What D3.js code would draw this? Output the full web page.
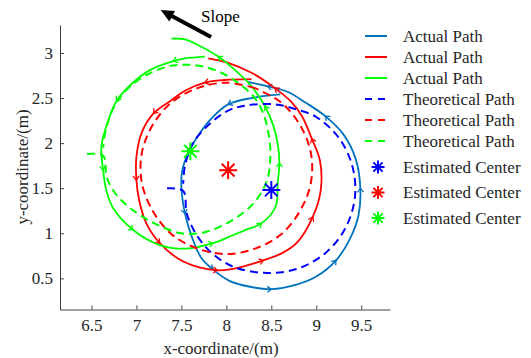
<!DOCTYPE html>
<html>
<head>
<meta charset="utf-8">
<script src="https://cdn.jsdelivr.net/npm/d3@7/dist/d3.min.js"></script>
<style>
  html, body { margin: 0; padding: 0; background: #fff; }
  svg, svg text { font-family: 'Liberation Serif', 'Times New Roman', serif; }
  svg { display: block; }
</style>
</head>
<body>
<svg id="chart" width="531" height="358"></svg>
<script>
// paths (metres), all driven counter-clockwise
const actualBlue = [
  [8.60, 2.54], [8.28, 2.50], [8.02, 2.43], [7.84, 2.28], [7.67, 2.06], [7.58, 1.90],
  [7.51, 1.70], [7.50, 1.52], [7.54, 1.22], [7.62, 0.95], [7.72, 0.73], [7.85, 0.60],
  [8.04, 0.47], [8.25, 0.41], [8.50, 0.38], [8.78, 0.43], [9.00, 0.52], [9.22, 0.70],
  [9.38, 0.95], [9.47, 1.20], [9.49, 1.50], [9.44, 1.82], [9.30, 2.10], [9.10, 2.30],
  [8.88, 2.45], [8.68, 2.57], [8.46, 2.63], [8.24, 2.68]
]
const actualRed = [
  [8.28, 2.71], [7.98, 2.70], [7.76, 2.67], [7.54, 2.58], [7.38, 2.47], [7.19, 2.33],
  [7.06, 2.12], [7.00, 1.85], [7.00, 1.59], [7.03, 1.37], [7.11, 1.11], [7.26, 0.89],
  [7.48, 0.71], [7.71, 0.62], [7.90, 0.59], [8.04, 0.60], [8.25, 0.65], [8.41, 0.70],
  [8.62, 0.78], [8.78, 0.89], [8.96, 1.18], [9.05, 1.48], [9.04, 1.81], [8.95, 2.05],
  [8.84, 2.30], [8.72, 2.46], [8.54, 2.61], [8.28, 2.78], [8.02, 2.89], [7.80, 2.94]
]
const actualGreen = [
  [7.76, 2.96], [7.54, 2.94], [7.41, 2.91], [7.15, 2.81], [6.96, 2.67], [6.78, 2.47],
  [6.67, 2.20], [6.61, 1.96], [6.63, 1.70], [6.66, 1.50], [6.74, 1.28], [6.96, 1.04],
  [7.26, 0.87], [7.56, 0.83], [7.85, 0.89], [8.05, 0.97], [8.22, 1.04], [8.39, 1.11],
  [8.55, 1.30], [8.57, 1.55], [8.59, 1.78], [8.57, 2.00], [8.52, 2.20], [8.43, 2.41],
  [8.28, 2.63], [8.13, 2.78], [7.91, 2.96], [7.70, 3.08], [7.54, 3.15], [7.39, 3.16]
]
const theoryBlue = [
  [7.34, 1.50], [7.52, 1.47], [7.56, 1.22], [7.67, 0.98], [7.85, 0.77], [8.10, 0.62],
  [8.46, 0.56], [8.80, 0.61], [9.10, 0.78], [9.32, 1.05], [9.43, 1.40], [9.40, 1.75],
  [9.25, 2.06], [9.00, 2.29], [8.76, 2.38], [8.54, 2.43], [8.24, 2.42], [8.02, 2.36],
  [7.80, 2.20], [7.63, 2.00], [7.54, 1.75], [7.52, 1.55]
]
const theoryRed = [
  [8.32, 2.61], [8.00, 2.67], [7.68, 2.61], [7.39, 2.45], [7.18, 2.20], [7.06, 1.89],
  [7.06, 1.56], [7.18, 1.25], [7.39, 0.99], [7.68, 0.83], [8.00, 0.77], [8.32, 0.83],
  [8.61, 0.99], [8.82, 1.25], [8.94, 1.56], [8.94, 1.89], [8.82, 2.20], [8.61, 2.45],
  [8.32, 2.61]
]
const theoryGreen = [
  [6.45, 1.88], [6.63, 1.86], [6.67, 1.62], [6.76, 1.45], [6.93, 1.28], [7.20, 1.11],
  [7.50, 1.00], [7.75, 1.01], [8.04, 1.13], [8.30, 1.33], [8.45, 1.58], [8.49, 1.85],
  [8.47, 2.10], [8.41, 2.33], [8.30, 2.52], [8.10, 2.69], [7.90, 2.80], [7.68, 2.86],
  [7.40, 2.86], [7.12, 2.76], [6.90, 2.60], [6.75, 2.40], [6.66, 2.15], [6.63, 1.95]
]
// estimated centres (blue, red, green)
const centerX = [8.50, 8.02, 7.60]
const centerY = [1.48, 1.70, 1.91]

const xTicks = [6.5, 7, 7.5, 8, 8.5, 9, 9.5]
const yTicks = [0.5, 1, 1.5, 2, 2.5, 3]
const legendLabels = [
  'Actual Path', 'Actual Path', 'Actual Path',
  'Theoretical Path', 'Theoretical Path', 'Theoretical Path',
  'Estimated Center', 'Estimated Center', 'Estimated Center'
]
// slope annotation arrow, tail then head, in axis units
const slopeArrow = [[7.83, 3.176], [7.27, 3.476]]

const svg = d3.select('#chart')
const axisColor = '#404040'
const textColor = '#262626'
const serif = "'Liberation Serif', 'Times New Roman', serif"

const x = d3.scaleLinear().domain([6.15, 9.82]).range([60, 390])
const y = d3.scaleLinear().domain([0.155, 3.31]).range([309.5, 25])

const line = d3
  .line()
  .x(d => x(d[0]))
  .y(d => y(d[1]))
  .curve(d3.curveCatmullRom.alpha(0.5))

/* AXES */
svg
  .append('g')
  .attr('transform', 'translate(0,309.5)')
  .call(
    d3
      .axisBottom(x)
      .tickValues(xTicks)
      .tickSizeInner(-4)
      .tickSizeOuter(0)
      .tickPadding(9.5)
      .tickFormat(d3.format('~g'))
  )
  .call(g => g.selectAll('line, path').attr('stroke', axisColor))
  .selectAll('text')
  .attr('fill', textColor)
  .style('font-family', serif)
  .style('font-size', '17px')

svg
  .append('g')
  .attr('transform', 'translate(60,0)')
  .call(
    d3
      .axisLeft(y)
      .tickValues(yTicks)
      .tickSizeInner(-4)
      .tickSizeOuter(0)
      .tickPadding(7)
      .tickFormat(d3.format('~g'))
  )
  .call(g => g.selectAll('line, path').attr('stroke', axisColor))
  .selectAll('text')
  .attr('fill', textColor)
  .style('font-family', serif)
  .style('font-size', '17px')

svg
  .append('text')
  .attr('x', 221)
  .attr('y', 354)
  .attr('text-anchor', 'middle')
  .attr('fill', textColor)
  .style('font-size', '17px')
  .text('x-coordinate/(m)')

svg
  .append('text')
  .attr('transform', 'translate(22,167) rotate(-90)')
  .attr('text-anchor', 'middle')
  .attr('dominant-baseline', 'central')
  .attr('fill', textColor)
  .style('font-size', '17px')
  .text('y-coordinate/(m)')

/* PATHS */
const actual = [
  { pts: actualBlue, color: '#0072BD' },
  { pts: actualRed, color: '#FF0000' },
  { pts: actualGreen, color: '#00FF00' }
]
const theory = [
  { pts: theoryBlue, color: '#0000FF' },
  { pts: theoryRed, color: '#FF0000' },
  { pts: theoryGreen, color: '#00FF00' }
]
const centerColors = ['#0000FF', '#FF0000', '#00FF00']

const plot = svg.append('g')

actual.forEach(s => {
  plot
    .append('path')
    .attr('d', line(s.pts))
    .attr('fill', 'none')
    .attr('stroke', s.color)
    .attr('stroke-width', 1.8)
    .attr('stroke-linejoin', 'round')

  // small direction marks along the driven path
  for (let i = 2; i < s.pts.length - 1; i += 3) {
    const a = s.pts[i - 1]
    const b = s.pts[i + 1]
    const ang =
      (Math.atan2(y(b[1]) - y(a[1]), x(b[0]) - x(a[0])) * 180) / Math.PI
    plot
      .append('path')
      .attr('d', 'M-4,-3L0,0L-4,3')
      .attr('transform', `translate(${x(s.pts[i][0])},${y(s.pts[i][1])}) rotate(${ang})`)
      .attr('fill', 'none')
      .attr('stroke', s.color)
      .attr('stroke-width', 1.3)
  }
})

theory.forEach(s => {
  plot
    .append('path')
    .attr('d', line(s.pts))
    .attr('fill', 'none')
    .attr('stroke', s.color)
    .attr('stroke-width', 2)
    .attr('stroke-dasharray', '8,5')
})

// asterisk marker, 4 strokes through the centre
const star = (g, cx, cy, r, color, w) => {
  const d = r * Math.SQRT1_2
  g.append('path')
    .attr(
      'd',
      `M${cx - r},${cy}L${cx + r},${cy}M${cx},${cy - r}L${cx},${cy + r}` +
        `M${cx - d},${cy - d}L${cx + d},${cy + d}M${cx - d},${cy + d}L${cx + d},${cy - d}`
    )
    .attr('stroke', color)
    .attr('stroke-width', w)
    .attr('fill', 'none')
}

centerX.forEach((cx, i) => {
  star(plot, x(cx), y(centerY[i]), 9, centerColors[i], 2)
})

/* SLOPE ARROW */
const [tail, head] = slopeArrow.map(p => [x(p[0]), y(p[1])])
const ang = Math.atan2(head[1] - tail[1], head[0] - tail[0])
const headLen = 13
const headW = 6
const base = [head[0] - headLen * Math.cos(ang), head[1] - headLen * Math.sin(ang)]
svg
  .append('line')
  .attr('x1', tail[0])
  .attr('y1', tail[1])
  .attr('x2', base[0] + 2 * Math.cos(ang))
  .attr('y2', base[1] + 2 * Math.sin(ang))
  .attr('stroke', '#000')
  .attr('stroke-width', 4)
svg
  .append('path')
  .attr(
    'd',
    `M${head[0]},${head[1]}` +
      `L${base[0] - headW * Math.sin(ang)},${base[1] + headW * Math.cos(ang)}` +
      `L${base[0] + headW * Math.sin(ang)},${base[1] - headW * Math.cos(ang)}Z`
  )
  .attr('fill', '#000')
svg
  .append('text')
  .attr('x', 201)
  .attr('y', 22)
  .attr('fill', '#000')
  .style('font-size', '17px')
  .text('Slope')

/* LEGEND */
const legend = svg.append('g')
const legendItems = legendLabels.map((label, i) => {
  const kind = i < 3 ? 'solid' : i < 6 ? 'dash' : 'star'
  const color = i < 3 ? actual[i].color : i < 6 ? theory[i - 3].color : centerColors[i - 6]
  const ry = i < 6 ? 36 + i * 21 : 167 + (i - 6) * 25.5
  return { label, kind, color, ry }
})

legendItems.forEach(d => {
  if (d.kind === 'star') {
    star(legend, 378, d.ry, 6.5, d.color, 2)
  } else {
    legend
      .append('line')
      .attr('x1', 365)
      .attr('x2', 387)
      .attr('y1', d.ry)
      .attr('y2', d.ry)
      .attr('stroke', d.color)
      .attr('stroke-width', 2)
      .attr('stroke-dasharray', d.kind === 'dash' ? '7,6' : null)
  }
  legend
    .append('text')
    .attr('x', 403)
    .attr('y', d.ry)
    .attr('dominant-baseline', 'central')
    .attr('fill', textColor)
    .style('font-size', '17px')
    .text(d.label)
})
</script>
</body>
</html>
